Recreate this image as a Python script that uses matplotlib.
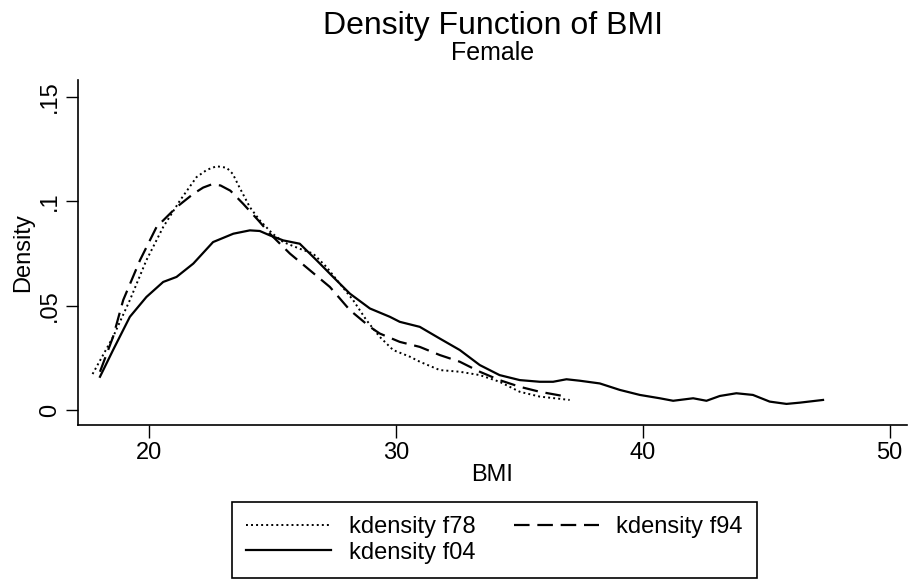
import matplotlib
matplotlib.use("Agg")
import matplotlib.pyplot as plt

plt.rcParams['font.family'] = ['Liberation Sans', 'DejaVu Sans']

# kdensity f78 (dotted)
f78_x = [17.72, 18.55, 19.23, 19.90, 20.58, 21.26, 21.93, 22.35, 22.74, 23.15, 23.40, 23.65,
         24.09, 24.49, 25.00, 25.44, 26.11, 26.65, 27.19, 27.73, 28.27, 28.81, 29.35, 29.89,
         30.57, 30.97, 31.78, 32.59, 33.40, 34.20, 35.02, 35.83, 37.04]
f78_y = [0.0172, 0.0350, 0.0526, 0.0717, 0.0876, 0.1003, 0.1115, 0.1150, 0.1167, 0.1160, 0.1130,
         0.1070, 0.0971, 0.0908, 0.0845, 0.0804, 0.0772, 0.0749, 0.0685, 0.0605, 0.0526, 0.0430,
         0.0350, 0.0287, 0.0255, 0.0231, 0.0191, 0.0183, 0.0167, 0.0135, 0.0087, 0.0064, 0.0048]

# kdensity f94 (dashed)
f94_x = [18.02, 18.55, 18.96, 19.64, 20.31, 21.12, 21.80, 22.20, 22.54, 22.90, 23.30, 23.82,
         24.43, 24.90, 25.71, 26.52, 27.33, 28.14, 28.95, 29.35, 30.16, 30.97, 31.78, 32.59,
         33.40, 34.20, 35.02, 35.83, 36.91]
f94_y = [0.0183, 0.0350, 0.0526, 0.0717, 0.0876, 0.0971, 0.1035, 0.1065, 0.1080, 0.1075, 0.1050,
         0.0987, 0.0908, 0.0844, 0.0749, 0.0669, 0.0589, 0.0478, 0.0398, 0.0366, 0.0326, 0.0302,
         0.0263, 0.0231, 0.0183, 0.0143, 0.0111, 0.0087, 0.0064]

# kdensity f04 (solid)
f04_x = [18.02, 18.55, 19.23, 19.90, 20.58, 21.12, 21.80, 22.60, 23.42, 24.09, 24.49,
         24.90, 25.44, 26.11, 26.79, 27.46, 28.14, 28.95, 29.76, 30.16, 30.97, 31.78,
         32.59, 33.40, 34.20, 35.02, 35.83, 36.37, 36.91, 37.45, 38.26, 39.07, 39.88,
         40.69, 41.23, 42.04, 42.58, 43.12, 43.79, 44.46, 45.14, 45.82, 46.36, 47.30]
f04_y = [0.0159, 0.0287, 0.0446, 0.0541, 0.0613, 0.0637, 0.0701, 0.0804, 0.0844, 0.0860, 0.0857,
         0.0836, 0.0812, 0.0796, 0.0717, 0.0637, 0.0557, 0.0486, 0.0446, 0.0422, 0.0398, 0.0342,
         0.0287, 0.0215, 0.0167, 0.0143, 0.0135, 0.0135, 0.0147, 0.0140, 0.0127, 0.0096, 0.0072,
         0.0056, 0.0044, 0.0056, 0.0044, 0.0067, 0.0080, 0.0072, 0.0040, 0.0029, 0.0035, 0.0048]

xticks = [20, 30, 40, 50]
yticks = [0, 0.05, 0.10, 0.15]
ytick_labels = ['0', '.05', '.1', '.15']

fig = plt.figure(figsize=(9.09, 5.81), dpi=100)
ax = fig.add_axes([78 / 909, 1 - 425 / 581, (907 - 78) / 909, (425 - 80) / 581])

line_kw = dict(color='black', solid_joinstyle='round', dash_joinstyle='round')
l78, = ax.plot(f78_x, f78_y, lw=1.4, linestyle=(0, (1, 1.6)), label='kdensity f78', **line_kw)
l94, = ax.plot(f94_x, f94_y, lw=1.6, linestyle=(0, (7, 3.5)), label='kdensity f94', **line_kw)
l04, = ax.plot(f04_x, f04_y, lw=1.6, linestyle='-', label='kdensity f04', **line_kw)

ax.set_xlim(17.13, 50.7)
ax.set_ylim(-0.0072, 0.158)
ax.set_xticks(xticks)
ax.set_yticks(yticks)
ax.set_yticklabels(ytick_labels, rotation=90, va='center')
ax.tick_params(axis='both', direction='out', length=9, width=1, labelsize=17, pad=3)

for s in ['top', 'right']:
    ax.spines[s].set_visible(False)
for s in ['left', 'bottom']:
    ax.spines[s].set_linewidth(1.2)

ax.set_xlabel('BMI', fontsize=17, labelpad=0)
ax.set_ylabel('Density', fontsize=17, labelpad=4)

fig.text(0.542, 1 - 26 / 581, 'Density Function of BMI', ha='center', va='center', fontsize=23)
fig.text(0.542, 1 - 53 / 581, 'Female', ha='center', va='center', fontsize=18)

leg = fig.legend(handles=[l78, l04, l94], ncol=2, loc='upper left',
                 bbox_to_anchor=(232 / 909, 1 - 502 / 581, (757 - 232) / 909, 0),
                 mode='expand', borderaxespad=0, fontsize=17, handlelength=3.6,
                 handletextpad=0.75, labelspacing=0.15, borderpad=0.6, columnspacing=1.0,
                 fancybox=False, framealpha=1, edgecolor='black')
leg.get_frame().set_linewidth(1.2)

fig.savefig('out.png', dpi=100)
